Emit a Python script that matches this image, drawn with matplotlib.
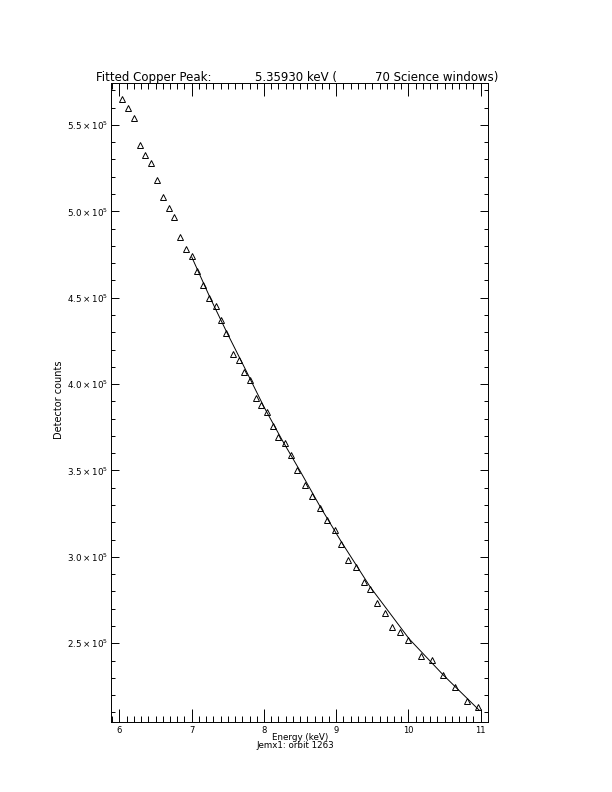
import matplotlib
matplotlib.use('Agg')
import matplotlib.pyplot as plt
from matplotlib.ticker import MultipleLocator, FuncFormatter

# measured spectrum points (keV, counts / 1e5)
energy = [6.04, 6.12, 6.20, 6.28, 6.36, 6.44, 6.52, 6.60, 6.68, 6.76,
          6.84, 6.92, 7.00, 7.08, 7.16, 7.24, 7.33, 7.40, 7.48, 7.57,
          7.65, 7.73, 7.81, 7.89, 7.96, 8.04, 8.12, 8.20, 8.29, 8.37,
          8.46, 8.57, 8.67, 8.77, 8.87, 8.98, 9.07, 9.17, 9.28, 9.38,
          9.47, 9.57, 9.68, 9.77, 9.88, 10.00, 10.17, 10.33, 10.48, 10.64,
          10.81, 10.96]
counts = [5.650, 5.600, 5.541, 5.383, 5.326, 5.280, 5.182, 5.083, 5.020, 4.967,
          4.850, 4.784, 4.742, 4.655, 4.574, 4.499, 4.452, 4.371, 4.298, 4.176,
          4.140, 4.070, 4.024, 3.922, 3.878, 3.837, 3.758, 3.694, 3.658, 3.588,
          3.502, 3.416, 3.354, 3.281, 3.214, 3.156, 3.075, 2.982, 2.942, 2.857,
          2.816, 2.732, 2.677, 2.596, 2.565, 2.519, 2.428, 2.403, 2.315, 2.245,
          2.168, 2.130]

# fitted curve
fit_energy = [7.00, 7.25, 7.49, 7.74, 8.00, 8.25, 8.50, 8.78, 9.08, 9.47,
              10.01, 10.48, 10.98]
fit_counts = [4.736, 4.504, 4.296, 4.088, 3.868, 3.677, 3.497, 3.289, 3.081, 2.826,
              2.525, 2.317, 2.112]

title_parts = ['Fitted Copper Peak:', '5.35930 keV (', '70 Science windows)']
xtitle = 'Energy (keV)'
subtitle = 'Jemx1: orbit 1263'
ytitle = 'Detector counts'

W, H = 612, 792
fig = plt.figure(figsize=(W / 100, H / 100), dpi=100)
x0, x1, y0, y1 = 110.5, 487.5, 83.3, 721.5
ax = fig.add_axes([x0 / W, 1 - y1 / H, (x1 - x0) / W, (y1 - y0) / H])

ax.plot([e for e in energy], [c * 1e5 for c in counts], linestyle='none',
        marker='^', markersize=4.6, markerfacecolor='none',
        markeredgecolor='black', markeredgewidth=0.7)
ax.plot(fit_energy, [c * 1e5 for c in fit_counts], color='black', linewidth=0.7)

ax.set_xlim(5.876, 11.094)
ax.set_ylim(2.047e5, 5.741e5)

ax.xaxis.set_major_locator(MultipleLocator(1))
ax.xaxis.set_minor_locator(MultipleLocator(0.1))
ax.yaxis.set_major_locator(MultipleLocator(0.5e5))
ax.yaxis.set_minor_locator(MultipleLocator(0.1e5))
ax.yaxis.set_major_formatter(FuncFormatter(lambda v, p: r'$%.1f\times10^{5}$' % (v / 1e5)))

ax.tick_params(axis='x', which='major', direction='in', length=9.4, width=0.7,
               top=True, bottom=True, labelsize=6, pad=3.5)
ax.tick_params(axis='x', which='minor', direction='in', length=4.6, width=0.7,
               top=True, bottom=True)
ax.tick_params(axis='y', which='major', direction='in', length=5.5, width=0.7,
               left=True, right=True, labelsize=6.3, pad=1.5)
ax.tick_params(axis='y', which='minor', direction='in', length=2.7, width=0.7,
               left=True, right=True)
for s in ax.spines.values():
    s.set_linewidth(0.7)

# title in three pieces to keep the IDL spacing
for txt, px in zip(title_parts, [96, 255, 375]):
    fig.text(px / W, 1 - 81 / H, txt, fontsize=8.5, ha='left', va='baseline')

fig.text(300 / W, 1 - 740 / H, xtitle, fontsize=6.3, ha='center', va='baseline')
fig.text(295 / W, 1 - 748.5 / H, subtitle, fontsize=6.3, ha='center', va='baseline')
fig.text(59.5 / W, 1 - 400 / H, ytitle, fontsize=7, rotation=90,
         ha='center', va='center')

fig.savefig('out.png', dpi=100)
